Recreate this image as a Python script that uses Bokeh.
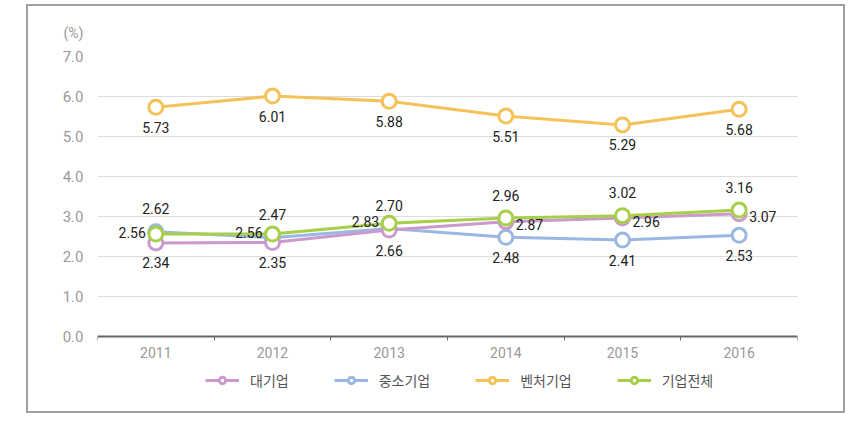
from bokeh.plotting import figure
from bokeh.models import (ColumnDataSource, Range1d, FixedTicker, Legend, LegendItem, Title)
from bokeh.embed import file_html
from bokeh.resources import INLINE
from bokeh.core.properties import value

years = ["2011", "2012", "2013", "2014", "2015", "2016"]
series_names = ["대기업", "중소기업", "벤처기업", "기업전체"]
large = [2.34, 2.35, 2.66, 2.87, 2.96, 3.07]
sme = [2.62, 2.47, 2.70, 2.48, 2.41, 2.53]
venture = [5.73, 6.01, 5.88, 5.51, 5.29, 5.68]
total = [2.56, 2.56, 2.83, 2.96, 3.02, 3.16]
y_ticks = [0, 1, 2, 3, 4, 5, 6, 7]

colors = ["#c99acb", "#9ab8e2", "#f5c25a", "#a8cf4a"]
label_pos = [
    ["below", "below", "below", "right", "right", "right"],
    ["above", "above", "above", "below", "below", "below"],
    ["below", "below", "below", "below", "below", "below"],
    ["left", "left", "left", "above", "above", "above"],
]
offsets = {"below": (0, -20, "center", "middle"),
           "above": (0, 23, "center", "middle"),
           "left": (-10, 2, "right", "middle"),
           "right": (10, -3, "left", "middle")}

p = figure(width=819, height=409, output_backend="svg", toolbar_location=None,
           x_range=Range1d(0, 6), y_range=Range1d(-1.9, 7),
           min_border_left=69, min_border_right=50, min_border_top=50, min_border_bottom=3)
p.styles = {"margin-left": "26px", "margin-top": "4px", "border": "2px solid #a0a0a0"}
p.outline_line_color = None
p.background_fill_color = "white"

xs = [i + 0.5 for i in range(len(years))]

# axes
p.xaxis.fixed_location = 0
p.xaxis.bounds = (0, 6)
p.xaxis.ticker = FixedTicker(ticks=xs, minor_ticks=list(range(len(years) + 1)))
p.xaxis.major_label_overrides = {x: y for x, y in zip(xs, years)}
p.xaxis.major_tick_line_color = None
p.xaxis.minor_tick_line_color = "#666666"
p.xaxis.minor_tick_out = 4
p.xaxis.minor_tick_in = 0
p.xaxis.axis_line_color = "#666666"
p.xaxis.axis_line_width = 2
p.xaxis.major_label_text_color = "#999999"
p.xaxis.major_label_text_font = "Roboto"
p.xaxis.major_label_text_font_size = "14px"
p.xaxis.major_label_standoff = 4
p.xgrid.grid_line_color = None

p.yaxis.ticker = FixedTicker(ticks=y_ticks)
p.yaxis.major_label_overrides = {t: f"{t:.1f}" for t in y_ticks}
p.yaxis.axis_line_color = None
p.yaxis.major_tick_line_color = None
p.yaxis.minor_tick_line_color = None
p.yaxis.major_label_text_color = "#999999"
p.yaxis.major_label_text_font = "Roboto"
p.yaxis.major_label_text_font_size = "15px"
p.yaxis.major_label_standoff = 8
p.ygrid.grid_line_color = "#dddddd"
p.ygrid.grid_line_width = 1

p.add_layout(Title(text="(%)", align="left", offset=-34, standoff=31,
                   text_color="#999999", text_font="Roboto", text_font_size="14px",
                   text_font_style="normal"), "above")

all_series = [large, sme, venture, total]
items = []
draw_order = [1, 0, 3, 2]
renderers = {}
for i in draw_order:
    vals = all_series[i]
    src = ColumnDataSource(dict(x=xs, y=vals))
    l = p.line("x", "y", source=src, line_color=colors[i], line_width=3)
    c = p.scatter("x", "y", source=src, size=14, fill_color="white", line_color=colors[i], line_width=3)
    renderers[i] = [l, c]

for i in range(4):
    vals = all_series[i]
    pos = label_pos[i]
    src = ColumnDataSource(dict(
        x=xs, y=vals, t=[f"{v:.2f}" for v in vals],
        xo=[offsets[q][0] for q in pos], yo=[-offsets[q][1] for q in pos],
        al=[offsets[q][2] for q in pos], bl=[offsets[q][3] for q in pos]))
    p.text("x", "y", text="t", source=src, x_offset="xo", y_offset="yo",
           text_align="al", text_baseline="bl", text_font=value("Roboto"),
           text_font_size="14px", text_color="#222222")

for i in range(4):
    items.append(LegendItem(label=series_names[i], renderers=renderers[i]))

legend = Legend(items=items, orientation="horizontal", location=(108, 22),
                label_text_font="Noto Sans CJK KR", label_text_font_size="14px",
                label_text_color="#555555", glyph_width=34, glyph_height=16,
                spacing=45, label_standoff=11, border_line_color=None,
                background_fill_alpha=0, margin=0, padding=0)
p.add_layout(legend, "center")

open("out.html", "w").write(file_html(p, INLINE))
